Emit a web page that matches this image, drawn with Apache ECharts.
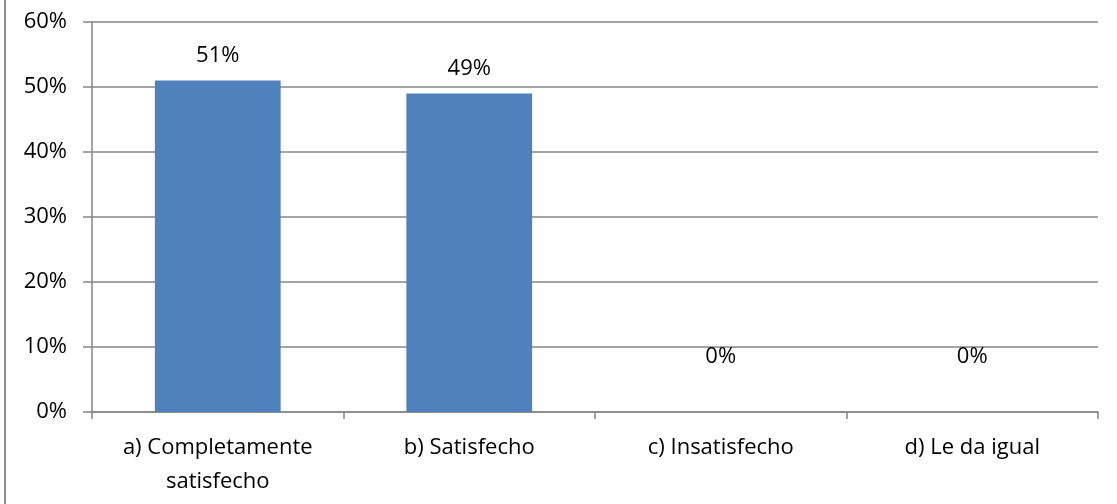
<!DOCTYPE html>
<html><head><meta charset="utf-8">
<script src="https://cdn.jsdelivr.net/npm/echarts@6/dist/echarts.min.js"></script>
<style>html,body{margin:0;padding:0;background:#fff}#c{width:1117px;height:504px}</style>
</head><body><div id="c"></div>
<script>
const categories = ['a) Completamente\nsatisfecho', 'b) Satisfecho', 'c) Insatisfecho', 'd) Le da igual'];
const values = [51, 49, 0, 0];
const yMax = 60, yInterval = 10;
const FONT = 'Open Sans';
const chart = echarts.init(document.getElementById('c'));
chart.setOption({
  animation: false,
  textStyle: { fontFamily: FONT },
  graphic: [{ type: 'line', shape: { x1: 5, y1: 0, x2: 5, y2: 504 }, style: { stroke: '#8c8c8c', lineWidth: 2 } }],
  grid: { left: 92, right: 19, top: 22, bottom: 92 },
  xAxis: {
    type: 'category', data: categories,
    axisLine: { lineStyle: { color: '#868686', width: 1.5 } },
    axisTick: { show: true, length: 7, interval: 0, lineStyle: { color: '#868686', width: 1.5 } },
    axisLabel: { color: '#000', fontSize: 22, fontFamily: FONT, margin: 19, lineHeight: 34, interval: 0 }
  },
  yAxis: {
    type: 'value', min: 0, max: yMax, interval: yInterval,
    axisLine: { show: true, lineStyle: { color: '#868686', width: 1.5 } },
    axisTick: { show: true, length: 9, lineStyle: { color: '#868686', width: 1.5 } },
    splitLine: { lineStyle: { color: '#868686', width: 1.5 } },
    axisLabel: { color: '#000', fontSize: 22, fontFamily: FONT, margin: 25, formatter: '{value}%' }
  },
  series: [{
    type: 'bar', barWidth: '50%',
    itemStyle: { color: '#4F81BD' },
    data: values.map(v => ({ value: v, label: v === 0 ? { offset: [0, -30] } : {} })),
    label: { show: true, position: 'top', distance: 14, color: '#000', fontSize: 22, fontFamily: FONT, formatter: '{c}%' }
  }]
});
</script></body></html>
